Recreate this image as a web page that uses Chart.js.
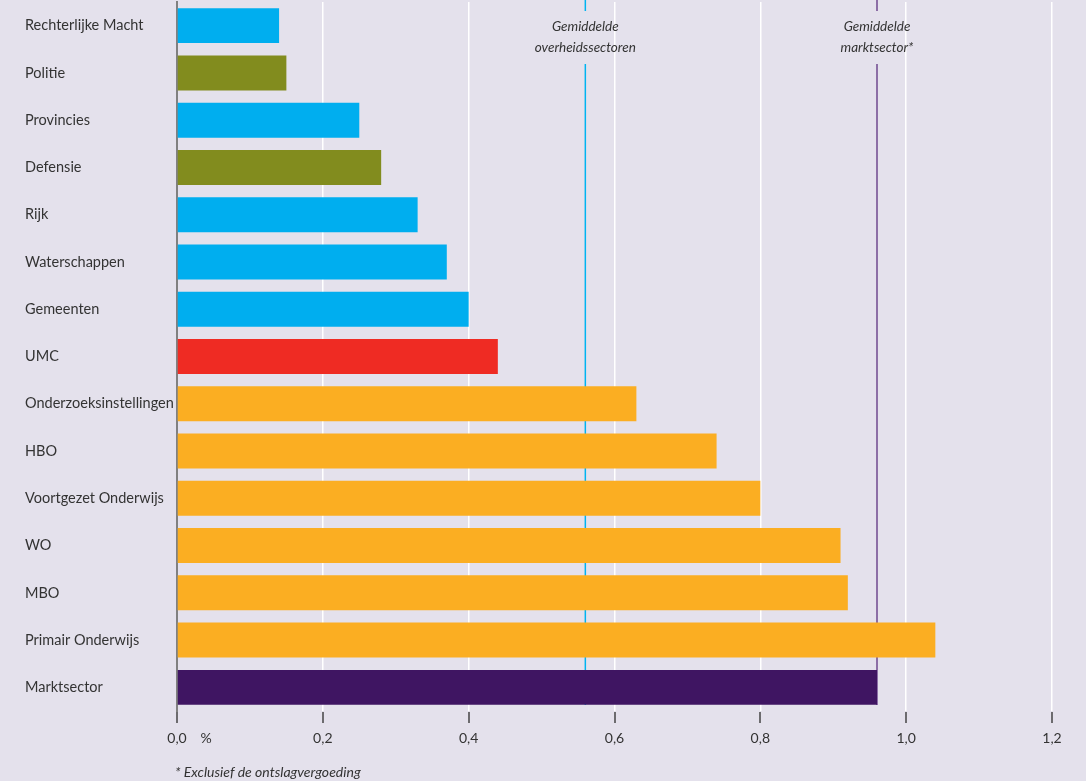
<!DOCTYPE html>
<html>
<head>
<meta charset="utf-8">
<script src="https://cdn.jsdelivr.net/npm/chart.js@4.4.1/dist/chart.umd.min.js"></script>
<style>
  html, body { margin: 0; padding: 0; background: #e4e1ec; }
  #wrap { width: 1086px; height: 781px; position: relative; }
</style>
</head>
<body>
<div id="wrap"><canvas id="c"></canvas></div>
<script>
const categories = ['Rechterlijke Macht', 'Politie', 'Provincies', 'Defensie', 'Rijk', 'Waterschappen', 'Gemeenten', 'UMC', 'Onderzoeksinstellingen', 'HBO', 'Voortgezet Onderwijs', 'WO', 'MBO', 'Primair Onderwijs', 'Marktsector'];
const values = [0.14, 0.15, 0.25, 0.28, 0.33, 0.37, 0.40, 0.44, 0.63, 0.74, 0.80, 0.91, 0.92, 1.04, 0.96];
const sectorGroups = ['openbaar', 'veiligheid', 'openbaar', 'veiligheid', 'openbaar', 'openbaar', 'openbaar', 'zorg', 'onderwijs', 'onderwijs', 'onderwijs', 'onderwijs', 'onderwijs', 'onderwijs', 'markt'];
const averageValues = [0.56, 0.96];
const averageLabels = [['Gemiddelde', 'overheidssectoren'], ['Gemiddelde', 'marktsector*']];
const xTickValues = [0, 0.2, 0.4, 0.6, 0.8, 1.0, 1.2];
const unitLabel = '%';
const footnote = '* Exclusief de ontslagvergoeding';

const groupColors = { openbaar: '#00aeef', veiligheid: '#828c1e', zorg: '#ef2b23', onderwijs: '#fbae22', markt: '#3f1562' };
const averageColors = ['#00b4f0', '#8c6ea6'];
const averageWidths = [1.5, 2];
const TEXT = '#333333';

const annotations = {
  id: 'annotations',
  beforeDatasetsDraw(chart) {
    const { ctx, chartArea, scales: { x } } = chart;
    ctx.save();
    averageValues.forEach((v, i) => {
      const px = x.getPixelForValue(v);
      ctx.strokeStyle = averageColors[i];
      ctx.lineWidth = averageWidths[i];
      ctx.beginPath();
      ctx.moveTo(px, 0); ctx.lineTo(px, 11);
      ctx.moveTo(px, 64); ctx.lineTo(px, chartArea.bottom - 6);
      ctx.stroke();
      ctx.fillStyle = TEXT;
      ctx.font = 'italic 13.5px Lato';
      ctx.textAlign = 'center';
      ctx.textBaseline = 'middle';
      averageLabels[i].forEach((t, j) => ctx.fillText(t, px, 27 + j * 21));
    });
    ctx.restore();
  },
  afterDraw(chart) {
    const { ctx, chartArea, scales: { x } } = chart;
    ctx.save();
    ctx.strokeStyle = '#444';
    ctx.lineWidth = 1.5;
    ctx.beginPath();
    x.ticks.forEach(t => {
      const px = Math.round(x.getPixelForValue(t.value));
      ctx.moveTo(px, chartArea.bottom + 1);
      ctx.lineTo(px, chartArea.bottom + 12);
    });
    ctx.stroke();
    ctx.fillStyle = TEXT;
    ctx.font = '14px Lato';
    ctx.textAlign = 'center';
    ctx.textBaseline = 'middle';
    ctx.fillText(unitLabel, x.getPixelForValue(0) + 29, 738);
    ctx.font = 'italic 14px Lato';
    ctx.textAlign = 'left';
    ctx.fillText(footnote, x.getPixelForValue(0) - 2, 772);
    ctx.restore();
  }
};

new Chart(document.getElementById('c'), {
  type: 'bar',
  data: {
    labels: categories,
    datasets: [{
      data: values,
      backgroundColor: sectorGroups.map(g => groupColors[g]),
      borderWidth: 0,
      barPercentage: 0.74,
      categoryPercentage: 1
    }]
  },
  options: {
    indexAxis: 'y',
    responsive: true,
    maintainAspectRatio: false,
    animation: false,
    layout: { padding: { left: 25, top: 2, right: 34, bottom: 0 } },
    plugins: { legend: { display: false }, tooltip: { enabled: false } },
    scales: {
      x: {
        min: 0, max: 1.2,
        afterBuildTicks(scale) { scale.ticks = xTickValues.map(v => ({ value: v })); },
        afterFit(scale) { scale.height = 70; scale.paddingLeft = 0; scale.paddingRight = 0; },
        grid: { color: '#ffffff', lineWidth: 1.5, drawTicks: false },
        border: { display: false },
        ticks: {
          padding: 19,
          color: TEXT,
          font: { family: 'Lato', size: 14 },
          callback: v => v.toFixed(1).replace('.', ',')
        }
      },
      y: {
        afterFit(scale) { scale.width = 152; scale.paddingTop = 0; scale.paddingBottom = 0; },
        grid: { display: false, drawTicks: false },
        border: { display: true, color: '#808080', width: 2 },
        ticks: {
          crossAlign: 'far',
          padding: 0,
          color: TEXT,
          font: { family: 'Lato', size: 14.5 }
        }
      }
    }
  },
  plugins: [annotations]
});
</script>
</body>
</html>
